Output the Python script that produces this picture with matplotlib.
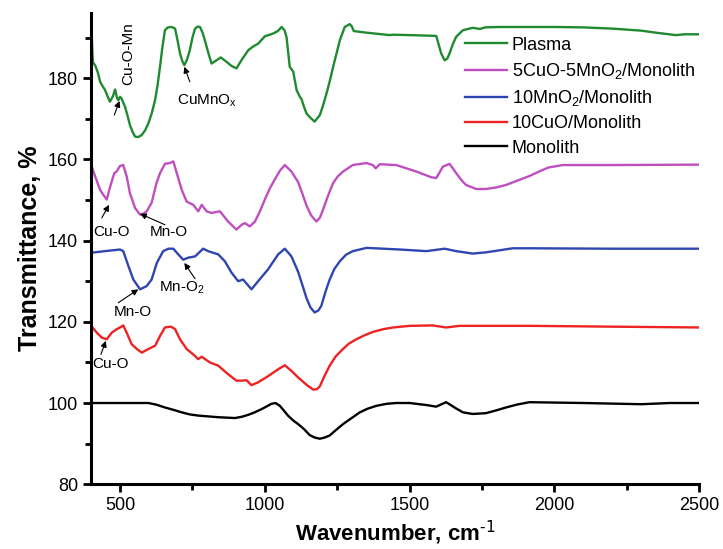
import matplotlib
matplotlib.use("Agg")
import matplotlib.pyplot as plt
from matplotlib import font_manager
from matplotlib.ticker import MultipleLocator

plt.rcParams['font.family'] = ['Liberation Sans', 'DejaVu Sans']
plt.rcParams['mathtext.default'] = 'regular'

names = sorted({f.name for f in font_manager.fontManager.ttflist})
print([n for n in names if 'Liberation' in n or 'Narrow' in n or 'Condensed' in n])

# Plasma
x_plasma = [400, 403, 406, 415, 425, 431, 440, 448, 457, 465, 475, 483, 490, 494, 500, 505, 517, 525,
            534, 543, 552, 563, 575, 587, 598, 610, 621, 630, 638, 646, 655, 665, 678, 690, 698,
            707, 715, 722, 731, 741, 750, 759, 768, 776, 785, 793, 805, 816, 833, 848, 868, 885,
            902, 920, 943, 960, 977, 1000, 1029, 1045, 1058, 1068, 1075, 1086, 1098, 1110, 1121,
            1127, 1135, 1144, 1158, 1172, 1190, 1200, 1213, 1225, 1236, 1248, 1259, 1276, 1293,
            1300, 1307, 1351, 1431, 1443, 1500, 1592, 1598, 1609, 1621, 1630, 1638, 1650, 1661,
            1684, 1718, 1743, 1760, 1810, 2000, 2100, 2200, 2300, 2350, 2420, 2450, 2500]
y_plasma = [192.2, 189, 184, 183, 181, 179.1, 178, 177.1, 175.5, 174.2, 175.5, 177.2, 175, 174.6,
            175.4, 175, 173, 171, 168.5, 166.8, 165.6, 165.5, 166, 167.2, 168.9, 171.5, 174.6,
            178.5, 182.8, 187.5, 191.8, 192.5, 192.6, 192.2, 189.5, 186.1, 184.2, 183.2, 184.5,
            186.9, 190, 192.2, 192.7, 192.6, 191.2, 189.3, 186.2, 183.6, 184.4, 185.1, 184, 183,
            182.4, 184.5, 186.9, 187.8, 188.5, 190.3, 191, 191.6, 192.6, 191.8, 190.1, 182.8, 181.6,
            177, 175.4, 174.8, 173, 171.3, 170.2, 169.3, 170.9, 173, 176.2, 179.5, 182.8, 186.2,
            189.3, 192.6, 193.3, 192.8, 191.6, 191.2, 190.6, 190.7, 190.6, 190.4, 188.9, 186.1,
            184.4, 184.8, 186.1, 188.5, 190.2, 191.8, 192.4, 192.1, 192.5, 192.6, 192.6, 192.5,
            192.2, 191.7, 191.2, 190.6, 190.8, 190.8]

# 5CuO-5MnO2/Monolith
x_cumn = [400, 414, 431, 442, 454, 466, 480, 488, 500, 511, 523, 534, 552, 569, 580, 592, 609, 626,
          638, 655, 672, 684, 696, 713, 730, 753, 770, 782, 799, 816, 845, 873, 902, 920, 931, 948,
          966, 983, 1000, 1017, 1034, 1052, 1069, 1092, 1115, 1130, 1144, 1160, 1178, 1190, 1201,
          1218, 1236, 1252, 1270, 1304, 1351, 1373, 1383, 1397, 1454, 1523, 1575, 1592, 1615, 1638,
          1661, 1680, 1695, 1730, 1764, 1800, 1833, 1870, 1914, 1950, 1980, 2029, 2200, 2500]
y_cumn = [158.6, 155.8, 152.5, 151.3, 150.1, 153.3, 156.6, 157, 158.4, 158.6, 155.8, 151.7, 148,
          146.4, 146.6, 147.2, 149.3, 154.2, 156.6, 158.9, 159.1, 159.5, 156.6, 152.5, 149.6, 148.8,
          147.2, 148.8, 147.2, 146.8, 147.2, 144.7, 142.7, 143.9, 144.3, 143.5, 144.7, 147.2, 150.1,
          152.8, 155, 157.2, 158.6, 157, 154.4, 151.5, 148.6, 146.2, 144.7, 145.6, 147.6, 151,
          154.2, 155.8, 157, 158.6, 159.1, 158.6, 157.8, 158.8, 158.6, 157, 155.6, 155.4, 158.2,
          158.9, 156.6, 154.8, 153.7, 152.7, 152.7, 153.1, 153.7, 154.7, 155.9, 157.1, 158.0,
          158.6, 158.6, 158.7]

# 10MnO2/Monolith
x_mn = [400, 448, 500, 511, 529, 546, 569, 592, 609, 627, 649, 667, 684, 701, 718, 736, 759, 787,
        804, 839, 862, 885, 908, 925, 937, 954, 977, 1011, 1046, 1069, 1092, 1115, 1130, 1144, 1158,
        1172, 1185, 1195, 1210, 1224, 1240, 1259, 1280, 1304, 1351, 1466, 1558, 1621, 1661, 1718,
        1764, 1856, 1914, 2200, 2500]
y_mn = [137, 137.4, 137.8, 137.4, 133.7, 130.4, 128, 128.8, 130.4, 134.5, 137.4, 138, 138, 136.6,
        135.3, 135.8, 136.1, 138, 137.4, 136.6, 134.9, 132.1, 130, 130.4, 129.4, 128, 130, 132.9,
        136.6, 138, 136.1, 132.3, 129, 125.8, 123.5, 122.3, 122.8, 123.9, 127.5, 130.4, 133,
        134.9, 136.5, 137.4, 138.2, 137.8, 137.4, 138, 137.4, 136.8, 137.1, 138.1, 138.1, 138, 138]

# 10CuO/Monolith
x_cu = [400, 420, 437, 454, 471, 489, 500, 511, 523, 540, 558, 575, 598, 621, 638, 655, 676, 690,
        707, 730, 759, 770, 782, 810, 839, 873, 902, 920, 937, 954, 977, 1011, 1046, 1069, 1092,
        1115, 1144, 1167, 1180, 1190, 1205, 1224, 1245, 1270, 1290, 1316, 1345, 1373, 1410, 1443,
        1500, 1580, 1626, 1672, 1914, 2200, 2500]
y_cu = [119, 117.3, 116.1, 115.7, 117.3, 118.2, 118.6, 119.1, 117.3, 114.5, 113.3, 112.4, 113.3,
        114.1, 116.5, 118.6, 118.8, 118.2, 115.7, 113.3, 111.6, 110.8, 111.4, 110, 109.2, 107.1,
        105.5, 105.5, 105.6, 104.4, 105.1, 106.6, 108.3, 109.3, 107.9, 106.3, 104.5, 103.3, 103.4,
        104.1, 106.5, 109.2, 111.5, 113.3, 114.6, 115.7, 116.7, 117.5, 118.2, 118.6, 119, 119.1,
        118.6, 119, 119, 118.8, 118.6]

# Monolith
x_mono = [400, 598, 625, 655, 685, 713, 740, 770, 839, 897, 920, 943, 965, 989, 1010, 1023, 1037,
          1052, 1065, 1080, 1098, 1115, 1135, 1155, 1172, 1190, 1207, 1224, 1245, 1270, 1300, 1328,
          1355, 1385, 1420, 1454, 1500, 1558, 1592, 1626, 1640, 1655, 1684, 1718, 1764, 1800, 1833,
          1870, 1914, 2100, 2300, 2400, 2500]
y_mono = [100, 100, 99.6, 98.9, 98.3, 97.7, 97.2, 96.9, 96.5, 96.3, 96.6, 97.1, 97.7, 98.5, 99.3,
          99.8, 100, 99.3, 98.2, 96.9, 95.7, 94.8, 93.6, 92.1, 91.5, 91.2, 91.5, 92, 93.3, 94.8,
          96.3, 97.7, 98.6, 99.3, 99.8, 100, 100, 99.5, 99.1, 100.2, 99.6, 98.9, 97.7, 97.3, 97.5,
          98.2, 98.9, 99.6, 100.2, 100, 99.7, 100, 100]

fig = plt.figure(figsize=(7.23, 5.49), dpi=100)
ax = fig.add_axes([0.126, 0.118, 0.841, 0.858])

lw = 1.7
ax.plot(x_plasma, y_plasma, color='#1f8a30', lw=lw, label='Plasma')
ax.plot(x_cumn, y_cumn, color='#bf4fbf', lw=lw, label='5CuO-5MnO$_2$/Monolith')
ax.plot(x_mn, y_mn, color='#2f45b0', lw=lw, label='10MnO$_2$/Monolith')
ax.plot(x_cu, y_cu, color='#ee2222', lw=lw, label='10CuO/Monolith')
ax.plot(x_mono, y_mono, color='black', lw=lw, label='Monolith')

ax.set_xlim(400, 2500)
ax.set_ylim(80, 196)
ax.xaxis.set_major_locator(MultipleLocator(500))
ax.xaxis.set_minor_locator(MultipleLocator(250))
ax.yaxis.set_major_locator(MultipleLocator(20))
ax.yaxis.set_minor_locator(MultipleLocator(10))
ax.tick_params(which='major', direction='out', length=6, width=2, labelsize=13)
ax.tick_params(which='minor', direction='out', length=4, width=2)
for s in ['top', 'right']:
    ax.spines[s].set_visible(False)
for s in ['left', 'bottom']:
    ax.spines[s].set_linewidth(2.2)

ax.set_xlabel('Wavenumber, cm$^{\\text{-1}}$', fontsize=16, fontweight='bold', labelpad=3)
ax.set_ylabel('Transmittance, %', fontsize=18, fontweight='bold', labelpad=4)

ap = dict(arrowstyle='-|>', color='black', lw=0.8, mutation_scale=9, shrinkA=0, shrinkB=0)
fs = 11
ax.text(528, 186, 'Cu-O-Mn', rotation=90, fontsize=fs, ha='center', va='center')
ax.annotate('', xy=(498, 174.4), xytext=(480, 170.9), arrowprops=ap)
ax.text(697, 173.4, 'CuMnO$_x$', fontsize=fs, ha='left', va='baseline')
ax.annotate('', xy=(722, 182.8), xytext=(741, 179.1), arrowprops=ap)
ax.text(471, 142.2, 'Cu-O', fontsize=fs, ha='center', va='center')
ax.annotate('', xy=(462, 148.8), xytext=(437, 145.6), arrowprops=ap)
ax.text(669, 142, 'Mn-O', fontsize=fs, ha='center', va='center')
ax.annotate('', xy=(569, 146.6), xytext=(655, 143.9), arrowprops=ap)
ax.text(543, 122.3, 'Mn-O', fontsize=fs, ha='center', va='center')
ax.annotate('', xy=(563, 128), xytext=(494, 124.7), arrowprops=ap)
ax.text(712, 128.4, 'Mn-O$_2$', fontsize=fs, ha='center', va='center')
ax.annotate('', xy=(722, 134.5), xytext=(759, 130.6), arrowprops=ap)
ax.text(466, 109.6, 'Cu-O', fontsize=fs, ha='center', va='center')
ax.annotate('', xy=(451, 115.3), xytext=(434, 112), arrowprops=ap)

ax.legend(loc='upper left', bbox_to_anchor=(0.615, 0.95), frameon=False, fontsize=13,
          handlelength=2.3, handletextpad=0.3, labelspacing=0.4, borderpad=0, borderaxespad=0)

fig.savefig('out.png', dpi=100)
